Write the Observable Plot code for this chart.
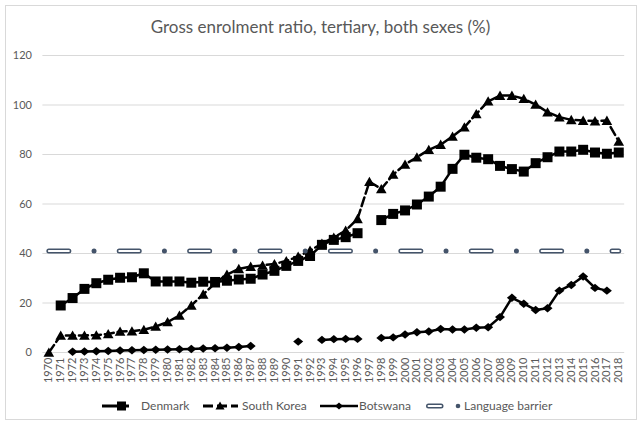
<!DOCTYPE html>
<html><head><meta charset="utf-8">
<script src="https://cdn.jsdelivr.net/npm/d3@7"></script>
<script src="https://cdn.jsdelivr.net/npm/@observablehq/plot@0.6"></script>
<style>
body{margin:0;background:#fff;}
#frame{position:relative;width:641px;height:424px;font-family:Lato,"Open Sans",sans-serif;color:#595959;overflow:hidden;background:#fff;}
#border{position:absolute;left:5px;top:5px;width:632px;height:415px;border:1px solid #d9d9d9;box-sizing:border-box;}
#title{position:absolute;left:0;width:641px;top:16px;text-align:center;font-size:17px;line-height:21px;}
#chart{position:absolute;left:0;top:0;}
#legend{position:absolute;left:0;top:396px;}
</style></head><body>
<div id="frame">
  <div id="border"></div>
  <div id="chart"></div>
  <div id="title">Gross enrolment ratio, tertiary, both sexes (%)</div>
  <svg id="legend" width="641" height="22" font-family="Lato, 'Open Sans', sans-serif" font-size="12" fill="#595959">
    <line x1="102" y1="10" x2="129" y2="10" stroke="#000" stroke-width="3"/>
    <rect x="117" y="5.5" width="9" height="9" fill="#000"/>
    <text x="141" y="14">Denmark</text>
    <line x1="203" y1="10" x2="238" y2="10" stroke="#000" stroke-width="3" stroke-dasharray="10,4"/>
    <path d="M220,5.5L224.5,13.5L215.5,13.5Z" fill="#000"/>
    <text x="242" y="14">South Korea</text>
    <line x1="320" y1="10" x2="358" y2="10" stroke="#000" stroke-width="2.5"/>
    <path d="M339,6.5L343,10L339,13.5L335,10Z" fill="#000"/>
    <text x="359" y="14">Botswana</text>
    <line x1="428.5" y1="10" x2="441" y2="10" stroke="#44546a" stroke-width="5" stroke-linecap="round"/>
    <line x1="428.5" y1="10" x2="441" y2="10" stroke="#fff" stroke-width="2" stroke-linecap="round"/>
    <circle cx="458" cy="10" r="2.3" fill="#44546a"/>
    <text x="464" y="14">Language barrier</text>
  </svg>
</div>
<script>
const years = [1970,1971,1972,1973,1974,1975,1976,1977,1978,1979,1980,1981,1982,1983,1984,1985,1986,1987,1988,1989,1990,1991,1992,1993,1994,1995,1996,1997,1998,1999,2000,2001,2002,2003,2004,2005,2006,2007,2008,2009,2010,2011,2012,2013,2014,2015,2016,2017,2018];
const denmark = [null,19,22,25.7,28,29.4,30.2,30.4,32,28.7,28.7,28.7,28.2,28.6,28.5,29,29.5,29.8,31.5,33,35,37,39,43.5,45.5,46.6,48.2,null,53.5,56,57.4,59.8,63,67,74.2,79.9,78.7,78.1,75.4,74.1,73.1,76.5,78.9,81.2,81.2,81.9,80.8,80.3,80.8];
const southKorea = [0,6.9,6.9,6.9,7,7.5,8.5,8.6,9.2,10.5,12.3,15,19,23.5,28,31.5,33.8,34.7,35.2,35.8,37,38.8,41.2,44,46.5,49.3,54,69,66.1,71.9,76,78.9,81.9,84,87.3,91,96.4,101.5,103.8,103.8,102.5,100.2,97.1,95.1,94,93.7,93.5,93.7,85.3];
const botswana = [null,null,0.3,0.4,0.5,0.6,0.8,0.9,1.0,1.1,1.2,1.3,1.4,1.6,1.7,1.9,2.2,2.6,null,null,null,4.4,null,5.1,5.4,5.5,5.5,null,5.9,6.1,7.3,8.2,8.5,9.5,9.3,9.3,10,10.2,14.3,22.1,19.7,17.2,17.9,25,27.3,30.7,26.1,25,null];
const languageBarrier = 41;
const languageBarrierYears = [1970, 2018];
const yTicks = [0,20,40,60,80,100,120];

const table = years.map((year, i) => ({year, denmark: denmark[i], southKorea: southKorea[i], botswana: botswana[i]}));
const lbData = languageBarrierYears.map(year => ({year, v: languageBarrier}));

const square = {draw(ctx){ const s = 5; ctx.moveTo(-s,-s); ctx.lineTo(s,-s); ctx.lineTo(s,s); ctx.lineTo(-s,s); ctx.closePath(); }};
const triangle = {draw(ctx){ ctx.moveTo(0,-5); ctx.lineTo(5.3,4.3); ctx.lineTo(-5.3,4.3); ctx.closePath(); }};
const diamond = {draw(ctx){ ctx.moveTo(0,-4.2); ctx.lineTo(5,0); ctx.lineTo(0,4.2); ctx.lineTo(-5,0); ctx.closePath(); }};

const chart = Plot.plot({
  width: 641,
  height: 392,
  marginTop: 55,
  marginBottom: 40,
  marginLeft: 42.4,
  marginRight: 16.8,
  style: {fontFamily: "Lato, 'Open Sans', sans-serif", fontSize: "11px", color: "#595959", background: "transparent", overflow: "visible"},
  x: {type: "point", domain: years, padding: 0.5, label: null, tickFormat: d => String(d), tickRotate: -90, tickSize: 0, tickPadding: 5},
  y: {domain: [0, 120], ticks: yTicks, label: null, tickSize: 0, tickPadding: 11},
  marks: [
    Plot.ruleY(yTicks, {stroke: "#d9d9d9", strokeWidth: 1}),
    Plot.line(table, {x: "year", y: "denmark", stroke: "#000", strokeWidth: 2.5}),
    Plot.dot(table, {x: "year", y: "denmark", symbol: square, fill: "#000", stroke: "none"}),
    Plot.line(table, {x: "year", y: "southKorea", stroke: "#000", strokeWidth: 2.5, strokeDasharray: "9,4"}),
    Plot.dot(table, {x: "year", y: "southKorea", symbol: triangle, fill: "#000", stroke: "none"}),
    Plot.line(table, {x: "year", y: "botswana", stroke: "#000", strokeWidth: 2.5}),
    Plot.dot(table, {x: "year", y: "botswana", symbol: diamond, fill: "#000", stroke: "none"}),
    Plot.line(lbData, {x: "year", y: "v", stroke: "#44546a", strokeWidth: 5, strokeLinecap: "round", strokeDasharray: "20,25.2,0,25.2"}),
    Plot.line(lbData, {x: "year", y: "v", stroke: "#fff", strokeWidth: 2, strokeLinecap: "round", strokeDasharray: "20,50.4"})
  ]
});
document.getElementById("chart").appendChild(chart);
</script>
</body></html>
